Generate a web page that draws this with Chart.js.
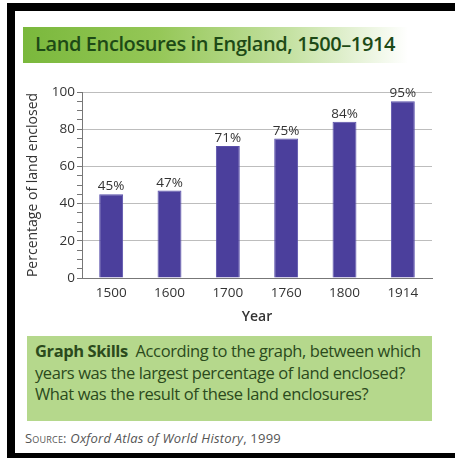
<!DOCTYPE html>
<html>
<head>
<meta charset="utf-8">
<script src="https://cdn.jsdelivr.net/npm/chart.js@4"></script>
<style>
  html, body { margin:0; padding:0; background:#fff; }
  body { width:455px; height:463px; position:relative; overflow:hidden; font-family:"Open Sans", sans-serif; }
  #frame { position:absolute; left:7px; top:3px; width:448px; height:455px; border-left:8px solid #000; border-top:8px solid #000; border-bottom:5px solid #000; box-sizing:border-box; }
  #head { position:absolute; left:23px; top:27px; width:385px; height:36px;
    background:linear-gradient(to right, #7ab83c 0%, #95c757 35%, #c6e2a4 70%, #fff 100%); }
  #head span { position:absolute; left:12px; top:3px; font-size:20px; font-weight:600; color:#1d4a16; letter-spacing:-0.4px; white-space:nowrap; }
  #wrap { position:absolute; left:15px; top:75px; width:440px; height:250px; }
  #skills { position:absolute; left:27px; top:336px; width:405px; height:85px; background:#b5d88c; box-sizing:border-box; padding:4px 0 0 8px;
    font-size:16.5px; line-height:21.5px; color:#2b4a1c; letter-spacing:-0.4px; white-space:nowrap; }
  #skills b { font-weight:700; }
  #src { position:absolute; left:25px; top:429px; font-size:13px; color:#555; white-space:nowrap; letter-spacing:0.2px; }
  #src i { font-style:italic; }
</style>
</head>
<body>
<div id="frame"></div>
<div id="head"><span>Land Enclosures in England, 1500–1914</span></div>
<div id="wrap"><canvas id="c"></canvas></div>
<div id="skills"><b>Graph Skills</b>&nbsp; According to the graph, between which<br>years was the largest percentage of land enclosed?<br>What was the result of these land enclosures?</div>
<div id="src"><span style="font-variant:small-caps">Source:</span> <i>Oxford Atlas of World History</i>, 1999</div>
<script>
// data
const years = ['1500','1600','1700','1760','1800','1914'];
const enclosed = [45, 47, 71, 75, 84, 95];

const barColor = '#4b3f9c';
const textColor = '#333';

// value labels above bars
const barLabels = {
  id:'barLabels',
  afterDatasetsDraw(chart){
    const ctx = chart.ctx;
    const meta = chart.getDatasetMeta(0);
    ctx.save();
    ctx.font = '13.5px "Open Sans", sans-serif';
    ctx.fillStyle = textColor;
    ctx.textAlign = 'center';
    ctx.textBaseline = 'bottom';
    meta.data.forEach((bar, i)=>{
      ctx.fillText(enclosed[i] + '%', bar.x, bar.y - 1);
    });
    ctx.restore();
  }
};

new Chart(document.getElementById('c'), {
  type:'bar',
  data:{
    labels: years,
    datasets:[{ data: enclosed, backgroundColor: barColor, borderColor:'#5a50ab', borderWidth:1,
      categoryPercentage:1, barPercentage:0.41 }]
  },
  options:{
    responsive:true,
    maintainAspectRatio:false,
    animation:false,
    layout:{ padding:{ top:17, right:23, left:0, bottom:0 } },
    plugins:{ legend:{display:false}, tooltip:{enabled:false} },
    scales:{
      x:{
        grid:{ display:false, drawTicks:false },
        border:{ display:true, color:'#777', width:1 },
        ticks:{ color:textColor, font:{ size:13.5, family:'"Open Sans", sans-serif' }, padding:7 },
        title:{ display:true, text:'Year', color:textColor, font:{ size:14, weight:'600', family:'"Open Sans", sans-serif' }, padding:{top:0, bottom:0} }
      },
      y:{
        min:0, max:100,
        afterFit(scale){ scale.width = 67; },
        ticks:{ stepSize:5, autoSkip:false, color:textColor, padding:2,
          font:{ size:13.5, family:'"Open Sans", sans-serif' },
          callback:(v)=> v % 20 === 0 ? v : '' },
        grid:{
          color:(c)=> (c.tick && c.tick.value % 20 === 0 && c.tick.value !== 0) ? '#bdbdbd' : 'rgba(0,0,0,0)',
          tickColor:'#777', tickLength:5, lineWidth:1
        },
        border:{ display:true, color:'#777' },
        title:{ display:true, text:'Percentage of land enclosed', color:textColor,
          font:{ size:14, family:'"Open Sans", sans-serif' }, padding:{ top:10, bottom:0 } }
      }
    }
  },
  plugins:[barLabels]
});
</script>
</body>
</html>
